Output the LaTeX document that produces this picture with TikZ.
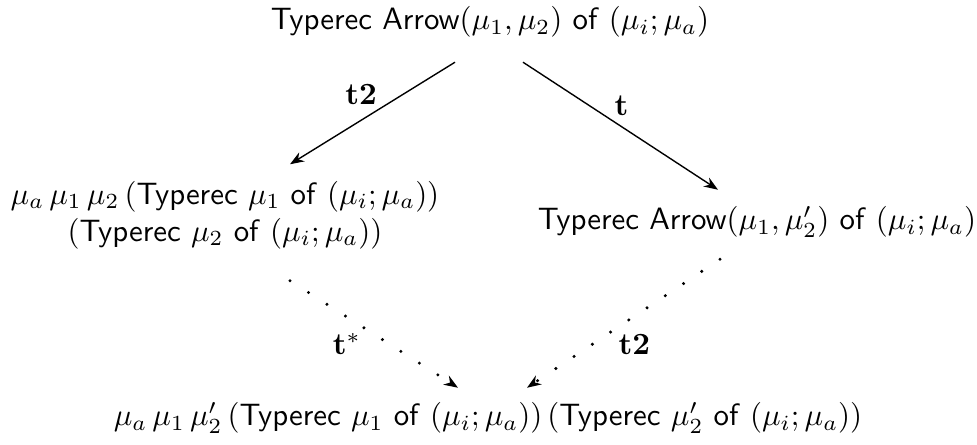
\documentclass[tikz,border=0pt]{standalone}
\usepackage{amsmath}
\usepackage{tikz}
\usetikzlibrary{arrows.meta,positioning,calc}

\newcommand{\ty}{\textsf{Typerec}}
\newcommand{\tof}{\textsf{of}}

\begin{document}
\begin{tikzpicture}[x=0.324pt,y=-0.324pt,
  term/.style={inner sep=2pt,align=center},
  lbl/.style={inner sep=1pt},
  red/.style={line width=0.45pt,-{Stealth[length=1.6mm,width=1.2mm]}},
  eq/.style={line width=1.1pt,dash pattern=on 0pt off 7.1pt,line cap=round,-{Stealth[length=1.6mm,width=1.2mm]}}]
\useasboundingbox (0,0) rectangle (977,445);
% the four terms
\node[term] (top) at (490,22) {\ty\ \textsf{Arrow}$(\mu_1,\mu_2)$ \tof\ $(\mu_i;\mu_a)$};
\node[term] (lft) at (225,215) {$\mu_a\,\mu_1\,\mu_2\,($\ty\ $\mu_1$ \tof\ $(\mu_i;\mu_a))$\\ $($\ty\ $\mu_2$ \tof\ $(\mu_i;\mu_a))$};
\node[term] (rgt) at (757,222) {\ty\ \textsf{Arrow}$(\mu_1,\mu_2')$ \tof\ $(\mu_i;\mu_a)$};
\node[term] (bot) at (488,418) {$\mu_a\,\mu_1\,\mu_2'\,($\ty\ $\mu_1$ \tof\ $(\mu_i;\mu_a))\,($\ty\ $\mu_2'$ \tof\ $(\mu_i;\mu_a))$};
% ends of the arrows
\coordinate (tl) at ($(top.south)+(-35,18)$);
\coordinate (tr) at ($(top.south)+(33,18)$);
\coordinate (le) at ($(lft.north)+(65,-10)$);
\coordinate (re) at ($(rgt.north)+(-39,-10)$);
\coordinate (ls) at ($(lft.south)+(65,25)$);
\coordinate (rs) at ($(rgt.south)+(-37,15)$);
\coordinate (bl) at ($(bot.north)+(-30,-8)$);
\coordinate (br) at ($(bot.north)+(39,-8)$);
% reductions
\draw[red] (tl) -- (le) node[lbl,pos=0.45,above left] {$\mathbf{t2}$};
\draw[red] (tr) -- (re) node[lbl,pos=0.45,above right] {$\mathbf{t}$};
% joins
\draw[eq] (ls) -- (bl) node[lbl,pos=0.45,below left] {$\mathbf{t}^*$};
\draw[eq] (rs) -- (br) node[lbl,pos=0.55,below right] {$\mathbf{t2}$};
\end{tikzpicture}
\end{document}
